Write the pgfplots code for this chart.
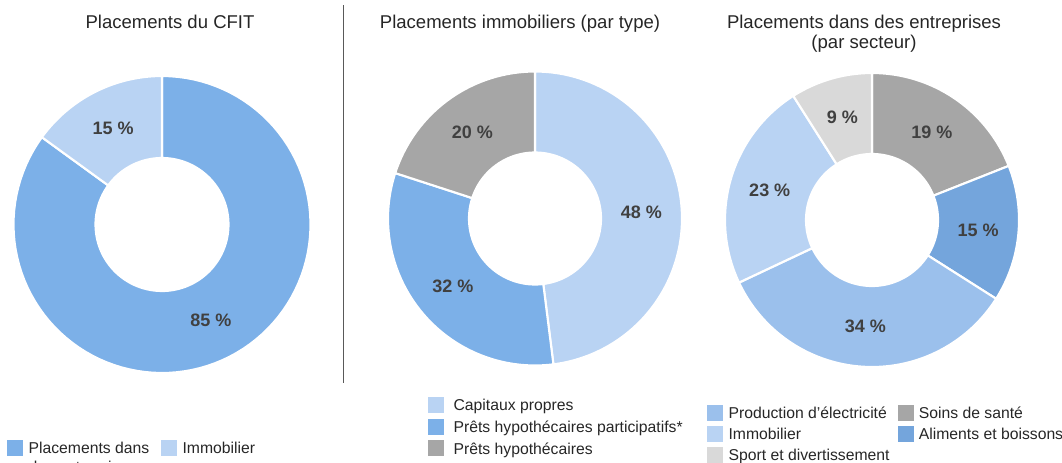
\documentclass[border=0pt]{standalone}
\usepackage{pgfplots}
\pgfplotsset{compat=1.18}
\usepackage{fontspec}
\setmainfont{Liberation Sans}
\definecolor{bMed}{HTML}{7CB0E8}
\definecolor{bLight}{HTML}{B9D3F3}
\definecolor{bMid}{HTML}{9BC0EC}
\definecolor{bDark}{HTML}{74A5DC}
\definecolor{gMid}{HTML}{A6A6A6}
\definecolor{gLight}{HTML}{D9D9D9}
\definecolor{lbl}{HTML}{404040}
\definecolor{txt}{HTML}{262626}
\definecolor{sepc}{HTML}{595959}

% #1 cx, #2 cy (px from top), #3 outer r, #4 inner r, #5 cumulative start (%), #6 value (%), #7 colour
\newcommand{\slice}[7]{%
  \addplot[fill=#7, draw=white, line width=1.6pt, domain=0:3, samples=301, variable=\t, forget plot]
    ({#1 + ifthenelse(\t<1.5,#3,#4)*cos(90-3.6*(#5+#6*min(1,\t,3-\t)))},
     {-#2 + ifthenelse(\t<1.5,#3,#4)*sin(90-3.6*(#5+#6*min(1,\t,3-\t)))}) -- cycle;
  \node[font=\fontsize{13.5}{16}\selectfont\bfseries, text=lbl]
    at (axis cs:{#1+0.5*(#3+#4)*cos(90-3.6*(#5+0.5*#6))},{-#2+0.5*(#3+#4)*sin(90-3.6*(#5+0.5*#6))}) {#6 \%};
}

\tikzset{ttl/.style={anchor=base, font=\fontsize{13.9}{16}\selectfont, text=txt}}
\pgfplotsset{
  frame/.style={scale only axis, width=796.5pt, height=346.5pt,
    xmin=0, xmax=1062, ymin=-462, ymax=0, enlargelimits=false,
    hide axis, clip=false, at={(0,0)}, anchor=south west,
    legend image code/.code={\fill[##1, draw=none] (0pt,-1.8pt) rectangle (12pt,10.2pt);},
    legend cell align=left,
    legend style={draw=none, fill=none, inner sep=0pt, anchor=north west,
      font=\fontsize{11.8}{14.2}\selectfont, text=txt,
      cells={anchor=base west, inner xsep=0pt, inner ysep=0pt}},
  },
}

\begin{document}
\begin{tikzpicture}
% Chart 1
\begin{axis}[frame, legend columns=2,
  legend style={at={(0.00659,0.05411)},
    /tikz/every even column/.append style={column sep=7pt},
    /tikz/every odd column/.append style={column sep=2pt}}]
\slice{162}{224.5}{148.5}{66.5}{0}{85}{bMed}
\slice{162}{224.5}{148.5}{66.5}{85}{15}{bLight}
\addlegendimage{fill=bMed}
\addlegendentry{\begin{tabular}[t]{@{}l@{}}Placements dans\\des entreprises\end{tabular}}
\addlegendimage{fill=bLight}
\addlegendentry{Immobilier}
\node[ttl] at (axis cs:170,-28) {Placements du CFIT};
\draw[sepc, line width=0.75pt] (axis cs:343,-5) -- (axis cs:343,-383);
\end{axis}
% Chart 2
\begin{axis}[frame, legend columns=1,
  legend style={at={(0.40301,0.14286)}, row sep=2.2pt,
    /tikz/every odd column/.append style={column sep=5pt}}]
\slice{535}{218.5}{147}{66}{0}{48}{bLight}
\slice{535}{218.5}{147}{66}{48}{32}{bMed}
\slice{535}{218.5}{147}{66}{80}{20}{gMid}
\addlegendimage{fill=bLight}
\addlegendentry{Capitaux propres}
\addlegendimage{fill=bMed}
\addlegendentry{Prêts hypothécaires participatifs*}
\addlegendimage{fill=gMid}
\addlegendentry{Prêts hypothécaires}
\node[ttl] at (axis cs:520,-28) {Placements immobiliers (par type)};
\end{axis}
% Chart 3
\begin{axis}[frame, legend columns=2,
  legend style={at={(0.66573,0.12554)}, row sep=1.6pt,
    /tikz/every even column/.append style={column sep=4pt},
    /tikz/every odd column/.append style={column sep=2pt}}]
\slice{872}{220}{147}{66}{0}{19}{gMid}
\slice{872}{220}{147}{66}{19}{15}{bDark}
\slice{872}{220}{147}{66}{34}{34}{bMid}
\slice{872}{220}{147}{66}{68}{23}{bLight}
\slice{872}{220}{147}{66}{91}{9}{gLight}
\addlegendimage{fill=bMid}
\addlegendentry{Production d’électricité}
\addlegendimage{fill=gMid}
\addlegendentry{Soins de santé}
\addlegendimage{fill=bLight}
\addlegendentry{Immobilier}
\addlegendimage{fill=bDark}
\addlegendentry{Aliments et boissons}
\addlegendimage{fill=gLight}
\addlegendentry{Sport et divertissement}
\node[ttl] at (axis cs:864,-28) {Placements dans des entreprises};
\node[ttl] at (axis cs:864,-48.5) {(par secteur)};
\end{axis}
\pgfresetboundingbox
\useasboundingbox (0,0) rectangle (796.5pt,346.5pt);
\end{tikzpicture}
\end{document}
